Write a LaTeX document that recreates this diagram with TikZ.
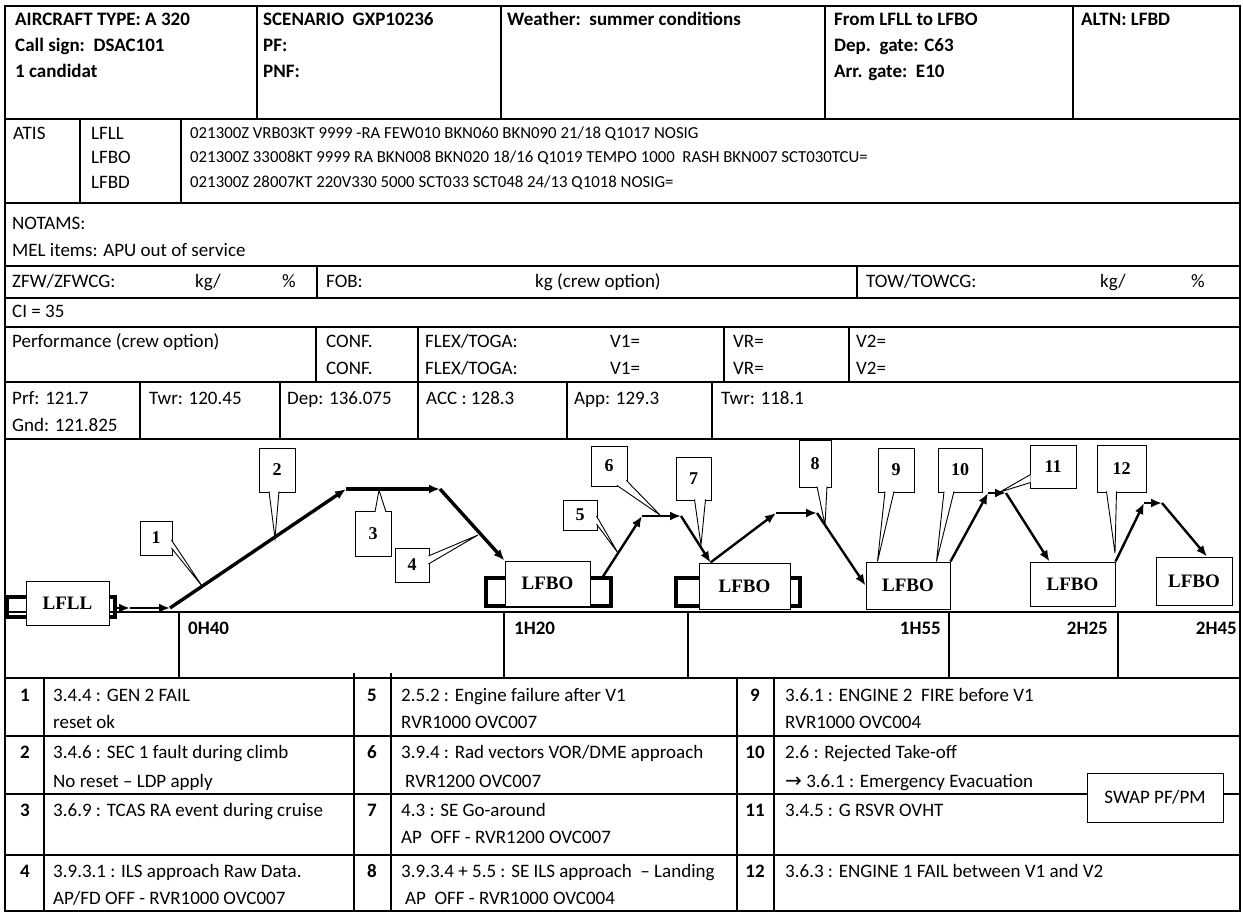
\documentclass[tikz,border=0pt]{standalone}
\usepackage{fontspec}
\setmainfont{Carlito}
\newfontfamily\timesfont{Liberation Serif}
\newfontfamily\arrowfont{DejaVu Sans}
\usetikzlibrary{arrows.meta, calc}

\begin{document}
\begin{tikzpicture}[x=1pt, y=-1pt,
  rule/.style={line width=1.2pt},
  txt/.style={anchor=base west, inner sep=0pt, font=\fontsize{19}{23}\selectfont},
  hdr/.style={txt, font=\fontsize{19}{23}\selectfont\bfseries},
  met/.style={txt, font=\fontsize{16.8}{20}\selectfont},
  num/.style={anchor=base, inner sep=0pt, font=\fontsize{19}{23}\selectfont\bfseries},
  apt/.style={draw, fill=white, line width=1pt, inner sep=0pt,
              font=\timesfont\bfseries\fontsize{19}{23}\selectfont},
  tag/.style={draw, fill=white, line width=0.9pt, inner sep=0pt,
              font=\timesfont\bfseries\fontsize{18}{22}\selectfont},
  wedge/.style={line width=0.9pt, fill=white},
  bracket/.style={line width=4pt},
  route/.style={line width=2.4pt, -{Latex[length=11pt,width=9pt]}},
  heavy/.style={route, line width=3.4pt},
]
\fill[white] (0,0) rectangle (1243,913);
\useasboundingbox (0,0) rectangle (1243,913);

% form grid
\draw[rule] (5,6) rectangle (1240,911);
\draw[rule] (5,119) -- (1240,119) (5,203) -- (1240,203) (5,266) -- (1240,266)
  (5,298) -- (1240,298) (5,327) -- (1240,327) (5,382) -- (1240,382)
  (5,439) -- (1240,439) (5,612) -- (1240,612) (5,678) -- (1240,678)
  (5,736) -- (1240,736) (5,794) -- (1240,794) (5,855) -- (1240,855);
\draw[rule] (257,6) -- (257,119) (501,6) -- (501,119) (825,6) -- (825,119) (1073,6) -- (1073,119);
\draw[rule] (80,119) -- (80,203) (181,119) -- (181,203);
\draw[rule] (317,266) -- (317,298) (857,266) -- (857,298);
\draw[rule] (316,327) -- (316,382) (418,327) -- (418,382) (724,327) -- (724,382) (849,327) -- (849,382);
\draw[rule] (140,382) -- (140,439) (280,382) -- (280,439) (418,382) -- (418,439)
  (567,382) -- (567,439) (712,382) -- (712,439);
\draw[rule] (179,612) -- (179,678) (504,612) -- (504,678) (688,612) -- (688,678)
  (949,612) -- (949,678) (1118,612) -- (1118,678);
\draw[rule] (44,678) -- (44,911) (354,673) -- (354,911) (391,673) -- (391,911)
  (737,678) -- (737,911) (774,678) -- (774,911);

% header
\node[hdr] (type) at (15,25) {AIRCRAFT TYPE: A 320};
\node[hdr] (call) at (15,51) {Call sign:\ \ DSAC101};
\node[hdr] (cand) at (15,77) {1 candidat};
\node[hdr] (scen) at (263,25) {SCENARIO\ \ GXP10236};
\node[hdr] (pf) at (263,51) {PF:};
\node[hdr] (pnf) at (263,77) {PNF:};
\node[hdr] (wx) at (507,25) {Weather:\ \ summer conditions};
\node[hdr] (from) at (834,25) {From LFLL to LFBO};
\node[hdr] (dgate) at (834,51) {Dep.\ \ gate: C63};
\node[hdr] (agate) at (834,77) {Arr. gate:\ \ E10};
\node[hdr] (altn) at (1081,25) {ALTN: LFBD};

% atis
\node[txt] (atis) at (13,139) {ATIS};
\node[txt] (alfll) at (91,139) {LFLL};
\node[txt] (alfbo) at (91,163) {LFBO};
\node[txt] (alfbd) at (91,188) {LFBD};
\node[met] (metar1) at (190,138) {021300Z VRB03KT 9999 -RA FEW010 BKN060 BKN090 21/18 Q1017 NOSIG};
\node[met] (metar2) at (190,162) {021300Z 33008KT 9999 RA BKN008 BKN020 18/16 Q1019 TEMPO 1000\ \ RASH BKN007 SCT030TCU=};
\node[met] (metar3) at (190,187) {021300Z 28007KT 220V330 5000 SCT033 SCT048 24/13 Q1018 NOSIG=};

% notams, weights, performance
\node[txt] (notams) at (12,229) {NOTAMS:};
\node[txt] (mel) at (12,256) {MEL items: APU out of service};
\node[txt] (zfw) at (12,287) {ZFW/ZFWCG:};
\node[txt] (zfwkg) at (195,287) {kg/};
\node[txt] (zfwpc) at (282,287) {\%};
\node[txt] (fob) at (326,287) {FOB:};
\node[txt] (fobkg) at (535,287) {kg (crew option)};
\node[txt] (tow) at (866,287) {TOW/TOWCG:};
\node[txt] (towkg) at (1100,287) {kg/};
\node[txt] (towpc) at (1191,287) {\%};
\node[txt] (ci) at (12,317) {CI = 35};
\node[txt] (perf) at (12,347) {Performance (crew option)};
\node[txt] (conf1) at (326,347) {CONF.};
\node[txt] (flex1) at (425,347) {FLEX/TOGA:};
\node[txt] (vone1) at (610,347) {V1=};
\node[txt] (vr1) at (733,347) {VR=};
\node[txt] (vtwo1) at (856,347) {V2=};
\node[txt] (conf2) at (326,374) {CONF.};
\node[txt] (flex2) at (425,374) {FLEX/TOGA:};
\node[txt] (vone2) at (610,374) {V1=};
\node[txt] (vr2) at (733,374) {VR=};
\node[txt] (vtwo2) at (856,374) {V2=};

% frequencies
\node[txt] (prf) at (12,404) {Prf: 121.7};
\node[txt] (gnd) at (12,431) {Gnd: 121.825};
\node[txt] (twr1) at (149,404) {Twr: 120.45};
\node[txt] (depf) at (287,404) {Dep: 136.075};
\node[txt] (acc) at (426,404) {ACC : 128.3};
\node[txt] (app) at (574,404) {App: 129.3};
\node[txt] (twr2) at (721,404) {Twr: 118.1};

% flight profile
\draw[bracket] (7,597) rectangle (115,617);
\draw[bracket] (486,578) rectangle (611,606);
\draw[bracket] (676,578) rectangle (800,606);
\node[apt, minimum width=83pt, minimum height=44pt] (dep) at (67.5,603) {LFLL};
\node[apt, minimum width=85pt, minimum height=45pt] (arr1) at (547.5,583.5) {LFBO};
\node[apt, minimum width=91pt, minimum height=46pt] (arr2) at (744.5,586) {LFBO};
\node[apt, minimum width=84pt, minimum height=47pt] (arr3) at (908,585.5) {LFBO};
\node[apt, minimum width=85pt, minimum height=44pt] (arr4) at (1072.5,584) {LFBO};
\node[apt, minimum width=76pt, minimum height=48pt] (arr5) at (1194,581) {LFBO};

\coordinate (g0) at ($(dep.east)+(6,5)$);
\coordinate (g1) at (130,608);
\coordinate (p1) at (170,608);
\coordinate (p2) at (346,489);
\coordinate (p3) at (440,489);
\coordinate (p5) at (602,578);
\coordinate (p6) at (642,516);
\coordinate (p7) at (681,516);
\coordinate (p9) at (776,513);
\coordinate (p10) at (817,513);
\coordinate (p13) at (988,493);
\coordinate (p14) at (1006,493);
\coordinate (p17) at (1144,503);
\coordinate (p18) at (1162,503);

\draw[route] (g0) -- (g1);
\draw[route] (g1) -- (p1);
\draw[heavy] (p1) -- (p2);
\draw[heavy] (p2) -- (p3);
\draw[heavy] (p3) -- (arr1.north west);
\draw[route] (p5) -- (p6);
\draw[route] (p6) -- (p7);
\draw[route] (p7) -- ($(arr2.north west)+(12,0)$);
\draw[route] ($(arr2.north west)+(12,0)$) -- (p9);
\draw[route] (p9) -- (p10);
\draw[route] (p10) -- (arr3.west);
\draw[route] (arr3.north east) -- (p13);
\draw[route] (p13) -- (p14);
\draw[route] (p14) -- ($(arr4.north west)+(20,0)$);
\draw[route] (arr4.north east) -- (p17);
\draw[route] (p17) -- (p18);
\draw[route] (p18) -- ($(arr5.north)+(13,0)$);

% event tags
\node[tag, minimum width=32pt, minimum height=34pt] (c1) at (156,538) {1};
\node[tag, minimum width=36pt, minimum height=44pt] (c2) at (277,470) {2};
\node[tag, minimum width=36pt, minimum height=45pt] (c3) at (373,534) {3};
\node[tag, minimum width=34pt, minimum height=34pt] (c4) at (412,565) {4};
\node[tag, minimum width=34pt, minimum height=30pt] (c5) at (580,515) {5};
\node[tag, minimum width=36pt, minimum height=40pt] (c6) at (609,466) {6};
\node[tag, minimum width=35pt, minimum height=43pt] (c7) at (693.5,478.5) {7};
\node[tag, minimum width=32pt, minimum height=47pt] (c8) at (815,463.5) {8};
\node[tag, minimum width=36pt, minimum height=44pt] (c9) at (896,470) {9};
\node[tag, minimum width=44pt, minimum height=44pt] (c10) at (960,470) {10};
\node[tag, minimum width=46pt, minimum height=43pt] (c11) at (1053,466.5) {11};
\node[tag, minimum width=49pt, minimum height=47pt] (c12) at (1121.5,468.5) {12};

\coordinate (t1) at (202,586);
\coordinate (t2) at (275,538);
\coordinate (t3) at (379,490);
\coordinate (t4) at (478,535);
\coordinate (t5) at (618,553);
\coordinate (t6) at (660,515);
\coordinate (t7) at (701,545);
\coordinate (t8) at (825,525);
\coordinate (t9) at ($(arr3.north west)+(12,0)$);
\coordinate (t10) at ($(arr3.north east)+(-14,0)$);
\coordinate (t11) at (1000,492);
\coordinate (t12) at (1115,553);

\filldraw[wedge] ($(c1.east)+(-1,2)$) -- (t1) -- ($(c1.east)+(-1,10)$);
\filldraw[wedge] ($(c2.south)+(-8,-1)$) -- (t2) -- ($(c2.south)+(2,-1)$);
\filldraw[wedge] ($(c3.north)+(2,1)$) -- (t3) -- ($(c3.north)+(13,1)$);
\filldraw[wedge] ($(c4.east)+(-1,-9)$) -- (t4) -- ($(c4.east)+(-1,-1)$);
\filldraw[wedge] ($(c5.east)+(-1,1)$) -- (t5) -- ($(c5.east)+(-1,9)$);
\filldraw[wedge] ($(c6.south)+(8,-1)$) -- (t6) -- ($(c6.south east)+(-1,-6)$);
\filldraw[wedge] ($(c7.south)+(1,-1)$) -- (t7) -- ($(c7.south)+(12,-1)$);
\filldraw[wedge] ($(c8.south)+(2,-1)$) -- (t8) -- ($(c8.south)+(12,-1)$);
\filldraw[wedge] ($(c9.south)+(-11,-1)$) -- (t9) -- ($(c9.south)+(-2,-1)$);
\filldraw[wedge] ($(c10.south)+(-16,-1)$) -- (t10) -- ($(c10.south)+(-6,-1)$);
\filldraw[wedge] ($(c11.west)+(1,8)$) -- (t11) -- ($(c11.west)+(1,16)$);
\filldraw[wedge] ($(c12.south)+(-15,-1)$) -- (t12) -- ($(c12.south)+(-5,-1)$);

% time marks
\node[hdr] (h040) at (188,634) {0H40};
\node[hdr] (h120) at (514,634) {1H20};
\node[hdr, anchor=base east] (h155) at (941,634) {1H55};
\node[hdr, anchor=base east] (h225) at (1108,634) {2H25};
\node[hdr, anchor=base east] (h245) at (1237,634) {2H45};

% event list
\node[num] (n1) at (25,701) {1};
\node[txt] (e1a) at (53,701) {3.4.4 : GEN 2 FAIL};
\node[txt] (e1b) at (53,728) {reset ok};
\node[num] (n2) at (25,758) {2};
\node[txt] (e2a) at (53,758) {3.4.6 : SEC 1 fault during climb};
\node[txt] (e2b) at (53,787) {No reset -- LDP apply};
\node[num] (n3) at (25,816) {3};
\node[txt] (e3a) at (53,816) {3.6.9 : TCAS RA event during cruise};
\node[num] (n4) at (25,877) {4};
\node[txt] (e4a) at (53,877) {3.9.3.1 : ILS approach Raw Data.};
\node[txt] (e4b) at (53,904) {AP/FD OFF - RVR1000 OVC007};

\node[num] (n5) at (372,701) {5};
\node[txt] (e5a) at (401,701) {2.5.2 : Engine failure after V1};
\node[txt] (e5b) at (401,728) {RVR1000 OVC007};
\node[num] (n6) at (372,758) {6};
\node[txt] (e6a) at (401,758) {3.9.4 : Rad vectors VOR/DME approach};
\node[txt] (e6b) at (405,787) {RVR1200 OVC007};
\node[num] (n7) at (372,816) {7};
\node[txt] (e7a) at (401,816) {4.3 : SE Go-around};
\node[txt] (e7b) at (401,843) {AP\ \ OFF - RVR1200 OVC007};
\node[num] (n8) at (372,877) {8};
\node[txt] (e8a) at (401,877) {3.9.3.4 + 5.5 : SE ILS approach\ \ -- Landing};
\node[txt] (e8b) at (405,904) {AP\ \ OFF - RVR1000 OVC004};

\node[num] (n9) at (755,701) {9};
\node[txt] (e9a) at (785,701) {3.6.1 : ENGINE 2\ \ FIRE before V1};
\node[txt] (e9b) at (785,728) {RVR1000 OVC004};
\node[num] (n10) at (755,758) {10};
\node[txt] (e10a) at (785,758) {2.6 : Rejected Take-off};
\node[txt] (e10b) at (785,787) {{\arrowfont\fontsize{20}{23}\selectfont →}\ 3.6.1 : Emergency Evacuation};
\node[num] (n11) at (755,816) {11};
\node[txt] (e11a) at (785,816) {3.4.5 : G RSVR OVHT};
\node[num] (n12) at (755,877) {12};
\node[txt] (e12a) at (785,877) {3.6.3 : ENGINE 1 FAIL between V1 and V2};

\node[draw, fill=white, line width=1pt, minimum width=136pt, minimum height=49pt,
      font=\fontsize{19}{23}\selectfont] (swap) at (1155,797.5) {SWAP PF/PM};
\end{tikzpicture}
\end{document}
